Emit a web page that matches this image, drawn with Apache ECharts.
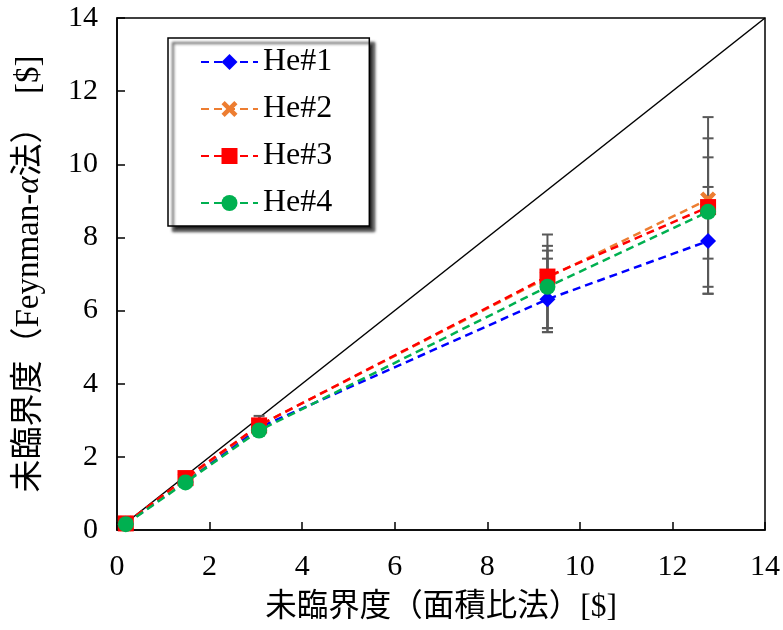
<!DOCTYPE html>
<html>
<head>
<meta charset="utf-8">
<style>
  html, body { margin: 0; padding: 0; background: #fff; }
  #chart { width: 783px; height: 630px; }
</style>
<script src="https://cdn.jsdelivr.net/npm/echarts@6/dist/echarts.min.js"></script>
</head>
<body>
<div id="chart"></div>
<script>
// Subcriticality: area-ratio method (x) vs Feynman-alpha method (y)
const seriesNames = ['He#1', 'He#2', 'He#3', 'He#4'];
const xValues = [0.19, 1.48, 3.07, 9.30, 12.77];

const he1 = [0.17, 1.33, 2.80, 6.31, 7.90];
const he2 = [0.18, 1.38, 2.86, 6.90, 9.04];
const he3 = [0.18, 1.42, 2.86, 6.93, 8.83];
const he4 = [0.16, 1.30, 2.72, 6.65, 8.70];

// error bar bounds (lower / upper), null where no bar is drawn
const he1Low  = [null, null, 2.65, 5.41, 6.46];
const he1High = [null, null, 2.95, 7.42, 9.38];
const he2Low  = [null, null, 2.62, 5.52, 6.65];
const he2High = [null, null, 3.12, 7.77, 11.29];
const he3Low  = [null, null, 2.70, 5.52, 7.42];
const he3High = [null, null, 3.02, 8.08, 10.71];
const he4Low  = [null, null, 2.58, 5.41, 6.46];
const he4High = [null, null, 2.86, 7.64, 10.19];

const xTicks = [0, 2, 4, 6, 8, 10, 12, 14];
const yTicks = [0, 2, 4, 6, 8, 10, 12, 14];
const diagonal = [0, 14];

const colors = ['#0000FF', '#ED7D31', '#FF0000', '#00B050'];
const crossPath = 'path://M0,2 L2,0 L5,3 L8,0 L10,2 L7,5 L10,8 L8,10 L5,7 L2,10 L0,8 L3,5 Z';
const symbols = ['diamond', crossPath, 'rect', 'circle'];
const symbolSizes = [16, 16, 16, 16];

const values = [he1, he2, he3, he4];
const lows = [he1Low, he2Low, he3Low, he4Low];
const highs = [he1High, he2High, he3High, he4High];

const serif = "'Liberation Serif', 'Noto Sans CJK JP', serif";

function pairs(ys) {
  return xValues.map((x, i) => [x, ys[i]]);
}
function errData(lo, hi) {
  const out = [];
  xValues.forEach((x, i) => {
    if (lo[i] != null && hi[i] != null) out.push([x, lo[i], hi[i]]);
  });
  return out;
}

const series = [];

// reference line y = x
series.push({
  type: 'line',
  data: diagonal.map(v => [v, v]),
  showSymbol: false,
  silent: true,
  lineStyle: { color: '#000', width: 1.5 },
  z: 1
});

// error bars, beneath the markers
values.forEach((_, k) => {
  series.push({
    type: 'custom',
    silent: true,
    z: 2,
    data: errData(lows[k], highs[k]),
    renderItem: function (params, api) {
      const x = api.value(0);
      const lo = api.coord([x, api.value(1)]);
      const hi = api.coord([x, api.value(2)]);
      const half = 5.5;
      const style = { stroke: '#595959', lineWidth: 2 };
      return {
        type: 'group',
        children: [
          { type: 'line', shape: { x1: lo[0], y1: lo[1], x2: hi[0], y2: hi[1] }, style: style },
          { type: 'line', shape: { x1: lo[0] - half, y1: lo[1], x2: lo[0] + half, y2: lo[1] }, style: style },
          { type: 'line', shape: { x1: hi[0] - half, y1: hi[1], x2: hi[0] + half, y2: hi[1] }, style: style }
        ]
      };
    }
  });
});

values.forEach((ys, k) => {
  series.push({
    name: seriesNames[k],
    type: 'line',
    data: pairs(ys),
    symbol: symbols[k],
    symbolSize: symbolSizes[k],
    itemStyle: { color: colors[k] },
    lineStyle: { color: colors[k], width: 2.5, type: [8, 5] },
    z: 3 + k
  });
});

const chart = echarts.init(document.getElementById('chart'), null, { renderer: 'canvas' });
chart.setOption({
  animation: false,
  backgroundColor: '#fff',
  color: colors,
  grid: {
    left: 117, right: 18, top: 18, bottom: 100,
    show: true, borderColor: '#000', borderWidth: 1.5
  },
  legend: {
    data: seriesNames,
    orient: 'vertical',
    left: 168, top: 38,
    padding: [8, 37, 7, 32],
    itemGap: 15,
    itemWidth: 57,
    itemHeight: 20,
    backgroundColor: '#fff',
    borderColor: '#000',
    borderWidth: 1.5,
    borderRadius: 0,
    shadowColor: 'rgba(0,0,0,0.85)',
    shadowBlur: 3,
    shadowOffsetX: 5,
    shadowOffsetY: 5,
    textStyle: { fontFamily: serif, fontSize: 32, color: '#000', lineHeight: 25, padding: [0, 0, 0, 0] }
  },
  xAxis: {
    type: 'value',
    min: xTicks[0], max: xTicks[xTicks.length - 1], interval: 2,
    name: '未臨界度（面積比法）[$]',
    nameLocation: 'middle',
    nameGap: 62,
    nameTextStyle: { fontFamily: serif, fontSize: 31.5, color: '#000' },
    axisLine: { lineStyle: { color: '#000', width: 1.5 } },
    axisTick: { inside: true, length: 8, lineStyle: { color: '#000', width: 1.5 } },
    axisLabel: { fontFamily: serif, fontSize: 30, color: '#000', margin: 22 },
    splitLine: { show: false }
  },
  yAxis: {
    type: 'value',
    min: yTicks[0], max: yTicks[yTicks.length - 1], interval: 2,
    name: '未臨界度（Feynman-{i|α}法）　[$]',
    nameLocation: 'middle',
    nameRotate: 90,
    nameGap: 71,
    nameTextStyle: {
      fontFamily: serif, fontSize: 33, color: '#000',
      rich: { i: { fontFamily: serif, fontSize: 33, fontStyle: 'italic', color: '#000' } }
    },
    axisLine: { lineStyle: { color: '#000', width: 1.5 } },
    axisTick: { inside: true, length: 8, lineStyle: { color: '#000', width: 1.5 } },
    axisLabel: { fontFamily: serif, fontSize: 30, color: '#000', margin: 19 },
    splitLine: { show: false }
  },
  series: series
});
</script>
</body>
</html>
